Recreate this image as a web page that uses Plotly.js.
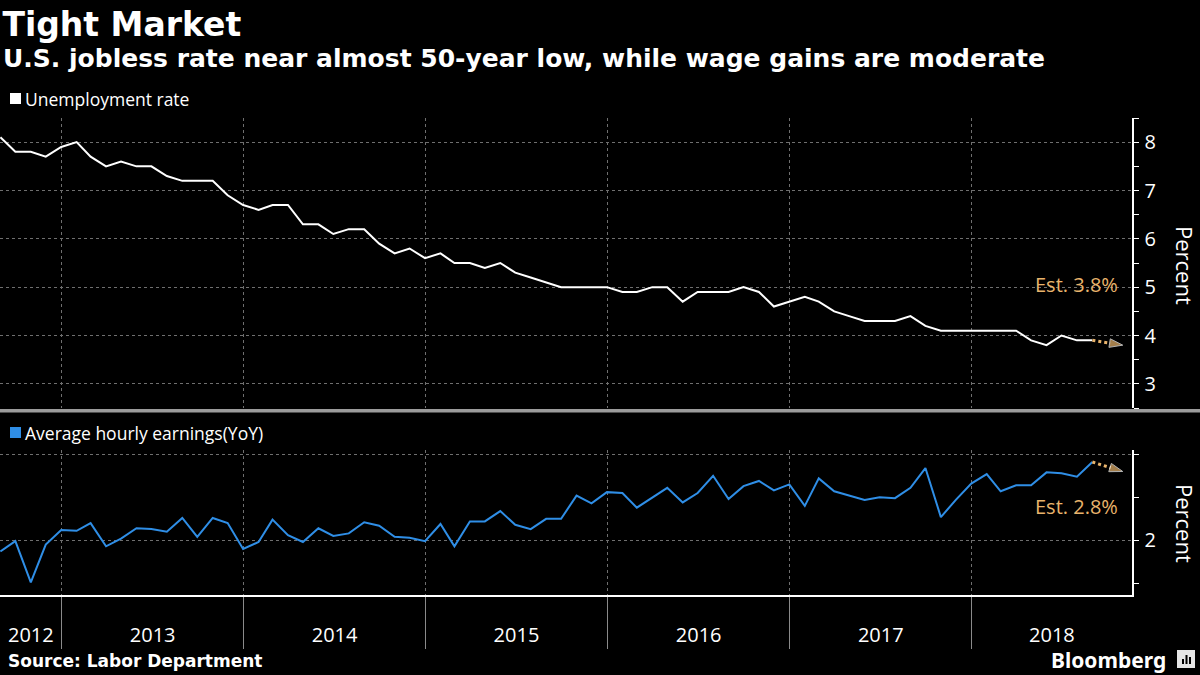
<!DOCTYPE html>
<html>
<head>
<meta charset="utf-8">
<script src="https://cdn.plot.ly/plotly-3.0.1.min.js"></script>
<style>
  html, body { margin: 0; padding: 0; background: #000; }
  #chart { width: 1200px; height: 675px; }
</style>
</head>
<body>
<div id="chart"></div>
<script>
// ---------------- DATA ----------------
const months = [
  '2012-08','2012-09','2012-10','2012-11','2012-12',
  '2013-01','2013-02','2013-03','2013-04','2013-05','2013-06','2013-07','2013-08','2013-09','2013-10','2013-11','2013-12',
  '2014-01','2014-02','2014-03','2014-04','2014-05','2014-06','2014-07','2014-08','2014-09','2014-10','2014-11','2014-12',
  '2015-01','2015-02','2015-03','2015-04','2015-05','2015-06','2015-07','2015-08','2015-09','2015-10','2015-11','2015-12',
  '2016-01','2016-02','2016-03','2016-04','2016-05','2016-06','2016-07','2016-08','2016-09','2016-10','2016-11','2016-12',
  '2017-01','2017-02','2017-03','2017-04','2017-05','2017-06','2017-07','2017-08','2017-09','2017-10','2017-11','2017-12',
  '2018-01','2018-02','2018-03','2018-04','2018-05','2018-06','2018-07','2018-08'
];

const unemploymentRate = [
  8.1, 7.8, 7.8, 7.7, 7.9,
  8.0, 7.7, 7.5, 7.6, 7.5, 7.5, 7.3, 7.2, 7.2, 7.2, 6.9, 6.7,
  6.6, 6.7, 6.7, 6.3, 6.3, 6.1, 6.2, 6.2, 5.9, 5.7, 5.8, 5.6,
  5.7, 5.5, 5.5, 5.4, 5.5, 5.3, 5.2, 5.1, 5.0, 5.0, 5.0, 5.0,
  4.9, 4.9, 5.0, 5.0, 4.7, 4.9, 4.9, 4.9, 5.0, 4.9, 4.6, 4.7,
  4.8, 4.7, 4.5, 4.4, 4.3, 4.3, 4.3, 4.4, 4.2, 4.1, 4.1, 4.1,
  4.1, 4.1, 4.1, 3.9, 3.8, 4.0, 3.9, 3.9
];

const hourlyEarningsYoY = [
  1.87, 1.99, 1.51, 1.95, 2.12,
  2.11, 2.20, 1.93, 2.02, 2.14, 2.13, 2.10, 2.26, 2.04, 2.26, 2.20, 1.90,
  1.98, 2.24, 2.06, 1.98, 2.14, 2.05, 2.08, 2.21, 2.17, 2.04, 2.03, 1.99,
  2.19, 1.93, 2.22, 2.22, 2.34, 2.18, 2.13, 2.25, 2.25, 2.52, 2.43, 2.56,
  2.55, 2.38, 2.50, 2.61, 2.44, 2.55, 2.75, 2.48, 2.63, 2.69, 2.58, 2.65,
  2.40, 2.72, 2.57, 2.52, 2.47, 2.50, 2.49, 2.61, 2.84, 2.27, 2.47, 2.66,
  2.77, 2.57, 2.64, 2.64, 2.79, 2.78, 2.74, 2.91
];

// estimate arrows: from last reading to the consensus estimate
const estMonths = ['2018-08', '2018-10'];
const unemploymentEst = [3.9, 3.8];
const earningsEst = [2.91, 2.8];

const yearLabels = ['2012','2013','2014','2015','2016','2017','2018'];
const unempTicks = [3, 4, 5, 6, 7, 8];
const earnTicks = [2, 3];
const earnTickText = ['2', ''];

// ---------------- HELPERS ----------------
function monthEnd(m) {
  const [y, mo] = m.split('-').map(Number);
  const d = new Date(Date.UTC(y, mo, 0));
  return d.toISOString().slice(0, 10);
}
const dates = months.map(monthEnd);
const estDates = estMonths.map(monthEnd);

const xStart = '2012-08-30 05:00';
const xEnd = '2018-11-18 12:00';
const toMs = s => new Date(s.replace(' ', 'T') + (s.length > 10 ? ':00Z' : 'T00:00:00Z')).getTime();

const yearStarts = yearLabels.slice(1).map(y => y + '-01-01');
const bounds = [xStart].concat(yearStarts).concat([xEnd]);
const yearMid = yearLabels.map((y, i) => {
  const a = toMs(bounds[i]), b = toMs(bounds[i + 1]);
  return new Date((a + b) / 2).toISOString().slice(0, 19).replace('T', ' ');
});
const quarterTicks = [];
for (let y = 2012; y <= 2018; y++) {
  ['01', '04', '07', '10'].forEach(q => quarterTicks.push(y + '-' + q + '-01'));
}

const W = 1200, H = 675;
const py = p => 1 - p / H;
const px = p => p / W;

const orange = '#E9B46C';
const blue = '#2F8EE6';
const bodyFont = 'Open Sans, Noto Sans, sans-serif';
const boldFont = 'DejaVu Sans, Liberation Sans, sans-serif';

// ---------------- TRACES ----------------
const traces = [
  {
    x: dates, y: unemploymentRate, xaxis: 'x', yaxis: 'y',
    type: 'scatter', mode: 'lines', name: 'Unemployment rate',
    line: { color: '#ffffff', width: 2 }, hoverinfo: 'skip', showlegend: false
  },
  {
    x: estDates, y: unemploymentEst, xaxis: 'x', yaxis: 'y',
    type: 'scatter', mode: 'lines+markers', name: 'Est.',
    line: { color: orange, width: 3, dash: 'dot' },
    marker: { symbol: 'arrow', angleref: 'previous', size: [0, 14], color: orange },
    hoverinfo: 'skip', showlegend: false
  },
  {
    x: dates, y: hourlyEarningsYoY, xaxis: 'x', yaxis: 'y2',
    type: 'scatter', mode: 'lines', name: 'Average hourly earnings(YoY)',
    line: { color: blue, width: 2 }, hoverinfo: 'skip', showlegend: false
  },
  {
    x: estDates, y: earningsEst, xaxis: 'x', yaxis: 'y2',
    type: 'scatter', mode: 'lines+markers', name: 'Est.',
    line: { color: orange, width: 3, dash: 'dot' },
    marker: { symbol: 'arrow', angleref: 'previous', size: [0, 14], color: orange },
    hoverinfo: 'skip', showlegend: false
  }
];

const gridCol = '#6f6f6f';
const tickFont = { family: bodyFont, size: 20, color: '#ffffff' };

const layout = {
  width: W, height: H,
  margin: { l: 0, r: 0, t: 0, b: 0 },
  paper_bgcolor: '#000000', plot_bgcolor: '#000000',
  showlegend: false,
  hovermode: false,
  title: {
    text: '<b>Tight Market</b>',
    font: { family: boldFont, size: 33, color: '#ffffff' },
    x: 0.002, xanchor: 'left', xref: 'paper',
    y: py(24), yanchor: 'middle', yref: 'container'
  },
  xaxis: {
    type: 'date', domain: [0, px(1132)], range: [xStart, xEnd], anchor: 'y2',
    tickmode: 'array', tickvals: yearMid, ticktext: yearLabels,
    ticks: '', ticklabelstandoff: 21,
    tickfont: tickFont,
    showline: true, linecolor: '#ffffff', linewidth: 1.5,
    showgrid: false, zeroline: false, fixedrange: true,
    minor: {
      tickmode: 'array', tickvals: yearStarts,
      ticks: 'outside', ticklen: 52, tickwidth: 1, tickcolor: '#8a8a8a',
      showgrid: true, gridcolor: gridCol, gridwidth: 1, griddash: 'dot'
    }
  },
  xaxis3: {
    type: 'date', overlaying: 'x', anchor: 'y2', domain: [0, px(1132)], range: [xStart, xEnd],
    tickmode: 'array', tickvals: quarterTicks,
    ticks: 'outside', ticklen: 5, tickwidth: 1, tickcolor: '#ffffff',
    showticklabels: false, showgrid: false, showline: false, zeroline: false, fixedrange: true
  },
  yaxis: {
    domain: [py(408), py(118)], range: [2.5, 8.5], side: 'right', anchor: 'x',
    tickmode: 'array', tickvals: unempTicks,
    ticks: 'outside', ticklen: 5, tickwidth: 1, tickcolor: '#ffffff',
    tickfont: tickFont, ticklabelstandoff: 2,
    showline: true, linecolor: '#ffffff', linewidth: 1.5,
    showgrid: true, gridcolor: gridCol, gridwidth: 1, griddash: 'dot',
    zeroline: false, fixedrange: true,
    minor: {
      tickmode: 'array', tickvals: [2.5, 3.5, 4.5, 5.5, 6.5, 7.5, 8.5],
      ticks: 'outside', ticklen: 5, tickwidth: 1, tickcolor: '#ffffff', showgrid: false
    }
  },
  yaxis2: {
    domain: [py(595), py(450)], range: [1.364, 3.05], side: 'right', anchor: 'x',
    tickmode: 'array', tickvals: earnTicks, ticktext: earnTickText,
    ticks: 'outside', ticklen: 5, tickwidth: 1, tickcolor: '#ffffff',
    tickfont: tickFont, ticklabelstandoff: 2,
    showline: true, linecolor: '#ffffff', linewidth: 1.5,
    showgrid: true, gridcolor: gridCol, gridwidth: 1, griddash: 'dot',
    zeroline: false, fixedrange: true,
    minor: {
      tickmode: 'array', tickvals: [1.5, 2.5],
      ticks: 'outside', ticklen: 5, tickwidth: 1, tickcolor: '#ffffff', showgrid: false
    }
  },
  shapes: [
    // panel separator band
    { type: 'rect', xref: 'paper', yref: 'paper', x0: 0, x1: 1, y0: py(412.5), y1: py(409),
      fillcolor: '#9b9b9b', line: { width: 0 }, layer: 'above' },
    // legend swatches
    { type: 'rect', xref: 'paper', yref: 'paper', x0: px(10), x1: px(21), y0: py(104), y1: py(93),
      fillcolor: '#ffffff', line: { width: 0 } },
    { type: 'rect', xref: 'paper', yref: 'paper', x0: px(10), x1: px(21), y0: py(438), y1: py(427),
      fillcolor: blue, line: { width: 0 } },
    // Bloomberg logo box
    { type: 'rect', xref: 'paper', yref: 'paper', x0: px(1177), x1: px(1195), y0: py(668), y1: py(650),
      fillcolor: '#e6e6e6', line: { width: 0 } },
    { type: 'rect', xref: 'paper', yref: 'paper', x0: px(1182), x1: px(1184), y0: py(664), y1: py(659),
      fillcolor: '#000', line: { width: 0 } },
    { type: 'rect', xref: 'paper', yref: 'paper', x0: px(1185.5), x1: px(1187.5), y0: py(664), y1: py(655),
      fillcolor: '#000', line: { width: 0 } },
    { type: 'rect', xref: 'paper', yref: 'paper', x0: px(1189), x1: px(1191), y0: py(664), y1: py(657),
      fillcolor: '#000', line: { width: 0 } }
  ],
  annotations: [
    { text: '<b>U.S. jobless rate near almost 50-year low, while wage gains are moderate</b>',
      xref: 'paper', yref: 'paper', x: px(1), y: py(59), xanchor: 'left', yanchor: 'middle',
      showarrow: false, font: { family: boldFont, size: 25, color: '#ffffff' } },
    { text: 'Unemployment rate',
      xref: 'paper', yref: 'paper', x: px(23), y: py(99), xanchor: 'left', yanchor: 'middle',
      showarrow: false, font: { family: bodyFont, size: 17.5, color: '#ffffff' } },
    { text: 'Average hourly earnings(YoY)',
      xref: 'paper', yref: 'paper', x: px(23), y: py(433), xanchor: 'left', yanchor: 'middle',
      showarrow: false, font: { family: bodyFont, size: 17.5, color: '#ffffff' } },
    { text: 'Est. 3.8%',
      xref: 'paper', yref: 'paper', x: px(1120), y: py(284), xanchor: 'right', yanchor: 'middle',
      showarrow: false, font: { family: bodyFont, size: 20, color: orange } },
    { text: 'Est. 2.8%',
      xref: 'paper', yref: 'paper', x: px(1120), y: py(507), xanchor: 'right', yanchor: 'middle',
      showarrow: false, font: { family: bodyFont, size: 20, color: orange } },
    { text: 'Percent', textangle: 90,
      xref: 'paper', yref: 'paper', x: px(1185), y: py(265), xanchor: 'center', yanchor: 'middle',
      showarrow: false, font: { family: bodyFont, size: 22, color: '#ffffff' } },
    { text: 'Percent', textangle: 90,
      xref: 'paper', yref: 'paper', x: px(1185), y: py(523), xanchor: 'center', yanchor: 'middle',
      showarrow: false, font: { family: bodyFont, size: 22, color: '#ffffff' } },
    { text: '<b>Source: Labor Department</b>',
      xref: 'paper', yref: 'paper', x: px(6), y: py(661), xanchor: 'left', yanchor: 'middle',
      showarrow: false, font: { family: boldFont, size: 17, color: '#ffffff' } },
    { text: '<b>Bloomberg</b>',
      xref: 'paper', yref: 'paper', x: px(1168), y: py(660), xanchor: 'right', yanchor: 'middle',
      showarrow: false, font: { family: 'Noto Sans, Open Sans, sans-serif', size: 21, color: '#ffffff' } }
  ]
};

Plotly.newPlot('chart', traces, layout, { staticPlot: true, displayModeBar: false });
</script>
</body>
</html>
